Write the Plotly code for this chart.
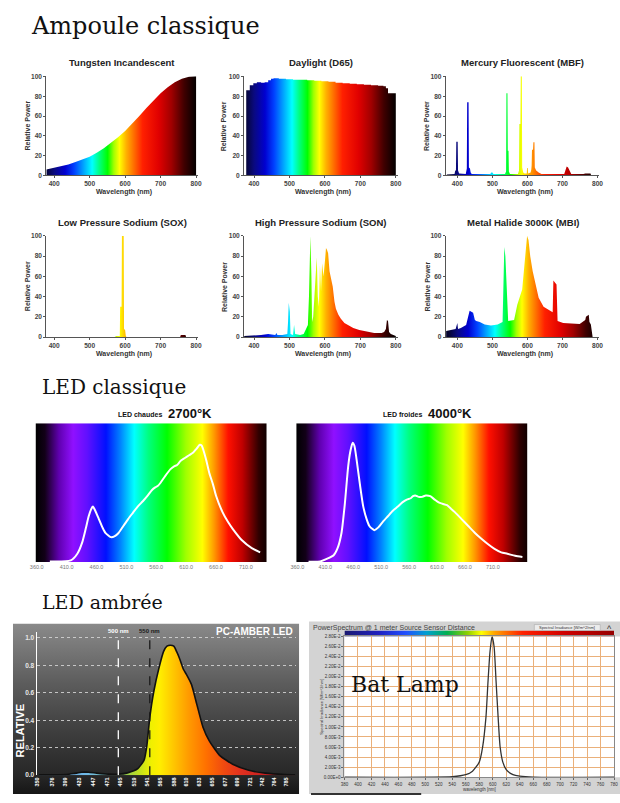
import plotly.graph_objects as go

# ====================== DATA ======================
# --- Ampoule classique (relative power, %) ---
TUNG_WL = [378, 400, 420, 440, 460, 480, 500, 520, 540, 560, 580, 600, 620, 640, 660, 680, 700, 720, 740, 760, 780, 800]
TUNG_PW = [6, 7.5, 9, 11, 13.5, 16, 19, 23, 27.5, 33, 38.5, 45, 52, 60, 68, 76, 83, 89, 94, 97.5, 99.5, 100]

DAY_WL = [378, 388, 398, 408, 420, 430, 440, 448, 455, 470, 490, 510, 530, 550, 570, 590, 610, 630, 650, 670,
          690, 710, 730, 750, 765, 772, 778, 800]
DAY_PW = [86, 91, 93, 94, 93.5, 94, 96, 97.5, 98, 97.5, 97, 96.5, 96.5, 96, 95.5, 95, 94.5, 93.5, 93, 92.5,
          92, 91.5, 91, 90.5, 90, 88, 83, 83]

HG_WL = [370, 392, 394, 396, 397, 401, 402, 405, 424, 426, 427, 428, 432, 433, 436, 438, 441, 494, 497, 500,
         503, 536, 538, 539, 540, 543, 544, 546, 547, 550, 573, 575, 576, 577, 580, 581, 584, 585, 588, 592,
         598, 599, 601, 602, 609, 611, 612, 613, 616, 617, 620, 621, 625, 632, 640, 705, 708, 712, 716, 720,
         725, 760, 765, 780, 782]
HG_PW = [1, 1.5, 5, 5, 34, 34, 5, 2, 1.5, 5, 7, 74, 74, 8, 7, 3, 1.5, 1.5, 3, 3,
         1.5, 1.5, 3, 4, 83, 83, 25, 25, 4, 1.5, 1.5, 3, 5, 52, 52, 100, 100, 8, 3, 2,
         2, 7.5, 7.5, 2, 3, 6, 10, 26, 26, 33.5, 33.5, 8, 5, 3, 1.5, 1.5, 5, 9, 8, 5,
         1.5, 1.5, 2, 2, 0]

SOX_WL = [378, 570, 575, 585, 586, 590, 591, 596, 597, 600, 602, 604, 755, 757, 770, 772, 805]
SOX_PW = [0, 0, 1, 1, 30, 30, 100, 100, 8, 7, 1, 0, 0, 2, 2, 0, 0]

SON_WL = [372, 400, 420, 440, 450, 460, 463, 466, 480, 494, 496, 498, 501, 503, 510, 513, 516, 530, 540, 548,
          552, 555, 557, 559, 562, 564, 567, 571, 574, 577, 580, 583, 586, 589, 592, 596, 600, 603, 606, 609,
          613, 618, 622, 627, 631, 638, 645, 655, 664, 680, 697, 720, 739, 760, 767, 772, 775, 778, 781, 786, 800]
SON_PW = [1, 1.5, 2, 3, 2.5, 2, 4, 2, 2, 3, 15, 34, 25, 3, 2, 12, 3, 2, 3, 8,
          12, 40, 73, 100, 60, 15, 20, 40, 60, 79, 40, 30, 71, 45, 73, 60, 75, 88, 86, 83,
          65, 55, 50, 35, 28, 22, 18, 14, 12, 9, 7, 5, 4, 4, 5, 8, 17, 16, 5, 3, 1]

MBI_WL = [368, 380, 395, 400, 402, 410, 425, 435, 440, 445, 450, 454, 464, 478, 496, 515, 529, 532, 534, 537,
          541, 545, 562, 571, 585, 594, 599, 603, 608, 615, 622, 632, 646, 660, 672, 674, 676, 683, 686, 702,
          749, 765, 767, 775, 777, 781, 786]
MBI_PW = [6, 7, 8, 14, 8, 9, 12, 26, 25, 24, 17, 16, 15, 12.5, 11.5, 12.5, 15, 60, 89, 80,
          53, 16, 17, 32, 47, 80, 100, 96, 80, 65, 53, 39, 30, 27, 24.5, 56, 55, 52, 16, 14,
          13, 17, 20, 22, 15, 12.5, 0]

TOP_TITLES = ["Tungsten Incandescent", "Daylight (D65)", "Mercury Fluorescent (MBF)",
              "Low Pressure Sodium (SOX)", "High Pressure Sodium (SON)", "Metal Halide 3000K (MBI)"]
TOP_XTICKS = [400, 500, 600, 700, 800]
TOP_YTICKS = [0, 20, 40, 60, 80, 100]

# --- LED classique (relative) ---
WARM_WL = [382, 417, 428, 436, 442, 447, 451, 454, 458, 464, 470, 475, 484, 490, 497, 505, 513, 521, 529, 538,
           546, 553, 559, 563, 567, 575, 584, 590, 595, 601, 608, 615, 622, 628, 633, 636, 638, 644, 649, 655,
           660, 671, 680, 688, 704, 720, 734]
WARM_PW = [0.005, 0.012, 0.06, 0.14, 0.24, 0.33, 0.38, 0.40, 0.37, 0.31, 0.25, 0.21, 0.18, 0.185, 0.21, 0.26,
           0.31, 0.355, 0.40, 0.44, 0.48, 0.52, 0.54, 0.55, 0.57, 0.62, 0.67, 0.69, 0.70, 0.73, 0.75, 0.77,
           0.79, 0.82, 0.845, 0.84, 0.82, 0.73, 0.64, 0.56, 0.48, 0.36, 0.29, 0.24, 0.155, 0.10, 0.07]

COOL_WL = [380, 401, 425, 432, 439, 445, 451, 455, 459, 462, 466, 472, 478, 484, 489, 494, 498, 505, 513, 522,
           531, 540, 548, 556, 563, 567, 571, 577, 583, 590, 598, 606, 613, 620, 628, 635, 642, 654, 666, 678,
           689, 701, 713, 725, 736, 750, 763]
COOL_PW = [0.003, 0.005, 0.05, 0.1, 0.21, 0.42, 0.69, 0.8, 0.86, 0.84, 0.74, 0.56, 0.40, 0.31, 0.26, 0.24,
           0.23, 0.25, 0.29, 0.33, 0.37, 0.40, 0.43, 0.45, 0.46, 0.475, 0.48, 0.47, 0.47, 0.48, 0.475, 0.45,
           0.43, 0.42, 0.41, 0.385, 0.36, 0.31, 0.26, 0.21, 0.17, 0.13, 0.095, 0.07, 0.06, 0.045, 0.036]
LED_XTICKS = [360, 410, 460, 510, 560, 610, 660, 710]

# --- LED ambrée (PC-AMBER) ---
AMB_WL = [352, 400, 413, 427, 439, 453, 467, 490, 507, 525, 536, 541, 546, 553, 562, 570, 576, 582, 588, 593,
          599, 605, 610, 619, 628, 639, 650, 668, 691, 719, 748, 782, 800]
AMB_RL = [0.003, 0.005, 0.012, 0.022, 0.022, 0.015, 0.01, 0.007, 0.017, 0.048, 0.11, 0.22, 0.42, 0.61, 0.78,
          0.90, 0.94, 0.947, 0.94, 0.90, 0.84, 0.77, 0.735, 0.66, 0.52, 0.35, 0.25, 0.145, 0.08, 0.036,
          0.015, 0.005, 0.003]
AMB_XTICKS = [350, 376, 399, 423, 447, 471, 495, 519, 541, 565, 588, 610, 633, 655, 677, 699, 721, 742, 764, 785]
AMB_YTICKS = [0.0, 0.2, 0.4, 0.6, 0.8, 1.0]
AMB_MARKS = [("500 nm", 491), ("550 nm", 546)]

# --- Bat Lamp ---
BAT_WL = [380, 540, 560, 570, 580, 585, 590, 593, 596, 599, 602, 605, 608, 611, 615, 620, 630, 640, 660, 780]
BAT_IR = [0.0, 0.0001, 0.0005, 0.0012, 0.003, 0.006, 0.012, 0.019, 0.025, 0.028, 0.026, 0.019, 0.012,
          0.006, 0.003, 0.0015, 0.0005, 0.0002, 0.0, 0.0]
BAT_XTICKS = list(range(380, 781, 20))
BAT_YTICKS = [i * 0.002 for i in range(15)]

# --- colour ramps (style) ---
SPEC_NM = [375, 400, 430, 455, 480, 505, 525, 548, 565, 581, 600, 620, 645, 690, 725, 760, 790, 805]
SPEC_COL = ['#050530', '#0a0a80', '#0000d0', '#0040ff', '#00a0ff', '#00ffff', '#00ff80', '#00ff00', '#a0ff00',
            '#ffff00', '#ffb000', '#ff7000', '#ff2000', '#e00000', '#a00000', '#400000', '#080000', '#000000']
LED_POS = [0, 0.04, 0.10, 0.16, 0.22, 0.30, 0.36, 0.42, 0.48, 0.56, 0.64, 0.71, 0.76, 0.82, 0.88, 0.95, 1.0]
LED_COL = ['#000000', '#120018', '#6000b0', '#9010ff', '#6010ff', '#0010ff', '#0080ff', '#00ffff', '#00ff80',
           '#00ff00', '#a0ff00', '#ffff00', '#ff9900', '#ff1000', '#c00000', '#300000', '#000000']
AMB_NM = [350, 430, 470, 500, 525, 545, 560, 585, 610, 640, 670, 700, 740, 800]
AMB_COL = ['#5080b0', '#70b8e8', '#70c0c0', '#90c850', '#c0e020', '#f0f000', '#ffee00', '#ffc400', '#ff9a00',
           '#ff7000', '#f04a10', '#e03020', '#c82020', '#a01818']
BAR_NM = [380, 430, 470, 500, 530, 560, 580, 600, 640, 700, 780]
BAR_COL = ['#1a1a70', '#2020c0', '#2050ff', '#00a0d0', '#00b050', '#90d000', '#ffff00', '#ffa000', '#ff2000',
           '#d00000', '#900000']

for a, b in [(TUNG_WL, TUNG_PW), (DAY_WL, DAY_PW), (HG_WL, HG_PW), (SOX_WL, SOX_PW), (SON_WL, SON_PW),
             (MBI_WL, MBI_PW), (WARM_WL, WARM_PW), (COOL_WL, COOL_PW), (AMB_WL, AMB_RL), (BAT_WL, BAT_IR),
             (SPEC_NM, SPEC_COL), (LED_POS, LED_COL), (AMB_NM, AMB_COL), (BAR_NM, BAR_COL)]:
    assert len(a) == len(b)


def scale(nms, cols):
    lo, hi = nms[0], nms[-1]
    return [[(n - lo) / (hi - lo), c] for n, c in zip(nms, cols)]


SPEC_CS = scale(SPEC_NM, SPEC_COL)
LED_CS = [[p, c] for p, c in zip(LED_POS, LED_COL)]
AMB_CS = scale(AMB_NM, AMB_COL)
BAR_CS = scale(BAR_NM, BAR_COL)
GRAY_CS = [[0, '#141414'], [0.11, '#262626'], [0.35, '#3c3c3c'], [0.65, '#5c5c5c'], [1, '#8a8a8a']]

# ====================== LAYOUT HELPERS ======================
W, H = 620, 803


def px_x(p):
    return p / W


def px_y(p):
    return 1 - p / H


fig = go.Figure()
L = dict(width=W, height=H, autosize=False, margin=dict(l=0, r=0, t=0, b=0, pad=0),
         paper_bgcolor='white', plot_bgcolor='rgba(0,0,0,0)', showlegend=False,
         font=dict(family='Liberation Sans, Arial, sans-serif', color='#222'))
shapes, annos = [], []


def set_axes(n, x0, x1, y0, y1, xr, yr, xkw=None, ykw=None):
    s = '' if n == 1 else str(n)
    base = dict(showgrid=False, zeroline=False, showticklabels=False, ticks='', showline=False, fixedrange=True)
    xa = dict(base, domain=[px_x(x0), px_x(x1)], range=xr, anchor='y' + s)
    ya = dict(base, domain=[px_y(y1), px_y(y0)], range=yr, anchor='x' + s)
    if xkw:
        xa.update(xkw)
    if ykw:
        ya.update(ykw)
    L['xaxis' + s] = xa
    L['yaxis' + s] = ya
    return 'x' + s, 'y' + s


def text(t, x, y, size, color='#222', xanchor='center', family=None, bold=False, angle=0):
    f = dict(size=size, color=color)
    if family:
        f['family'] = family
    if bold:
        f['weight'] = 'bold'
    annos.append(dict(text=t, x=px_x(x), y=px_y(y), xref='paper', yref='paper', showarrow=False,
                      xanchor=xanchor, yanchor='middle', font=f, textangle=angle, borderpad=0))


def rect_trace(xa, ya, x0, x1, y0, y1, grad):
    fig.add_trace(go.Scatter(x=[x0, x1, x1, x0, x0], y=[y0, y0, y1, y1, y0], xaxis=xa, yaxis=ya,
                             mode='lines', line=dict(width=0), fill='toself', fillgradient=grad,
                             hoverinfo='skip'))


SERIF = 'DejaVu Serif, serif'

# ====================== PC-AMBER panel background (axes 1) ======================
xa, ya = set_axes(1, 7, 298, 625, 797, [0, 1], [0, 1])
rect_trace(xa, ya, 0, 1, 0, 1, dict(type='vertical', colorscale=GRAY_CS, start=0, stop=1))

# ====================== Ampoule classique (axes 2-7) ======================
COLS = [(41, 195, [378, 805]), (242, 398, [372, 805]), (447, 603, [367, 805])]
ROWS = [(73, 173, 59, 190), (234, 336, 220, 353)]
YT_X = [22, 222, 428]
SPECTRA = [(TUNG_WL, TUNG_PW, 'linear'), (DAY_WL, DAY_PW, 'hv'), (HG_WL, HG_PW, 'linear'),
           (SOX_WL, SOX_PW, 'linear'), (SON_WL, SON_PW, 'linear'), (MBI_WL, MBI_PW, 'linear')]
tickfont = dict(size=6.6, color='#444', family='Liberation Sans', weight='bold')
axstyle = dict(showticklabels=True, ticks='outside', ticklen=2, tickwidth=1, tickcolor='#555',
               showline=True, linecolor='#555', linewidth=1, tickfont=tickfont)
for i, (wl, pw, shp) in enumerate(SPECTRA):
    r, c = divmod(i, 3)
    x0, x1, xr = COLS[c]
    y0, y1, ty, wy = ROWS[r]
    xa, ya = set_axes(2 + i, x0, x1, y0, y1, xr, [0, 100],
                      dict(axstyle, tickvals=TOP_XTICKS), dict(axstyle, tickvals=TOP_YTICKS))
    fig.add_trace(go.Scatter(x=wl, y=pw, xaxis=xa, yaxis=ya, mode='lines',
                             line=dict(width=0, shape=shp), fill='tozeroy',
                             fillgradient=dict(type='horizontal', colorscale=SPEC_CS, start=375, stop=805),
                             hoverinfo='skip'))
    text(TOP_TITLES[i], (x0 + x1) / 2, ty, 9.5, '#222', bold=True)
    text('Wavelength (nm)', (x0 + x1) / 2 + 2, wy, 7, '#333', bold=True)
    text('Relative Power', YT_X[c], (y0 + y1) / 2, 7, '#333', bold=True, angle=-90)

# ====================== LED classique (axes 8-9) ======================
LEDS = [(WARM_WL, WARM_PW, 30, 265, [358, 745], 'LED chaudes', '2700°K', 160),
        (COOL_WL, COOL_PW, 295, 530, [358, 772], 'LED froides', '4000°K', 424)]
for j, (wl, pw, x0, x1, xr, lab, temp, tx) in enumerate(LEDS):
    xa, ya = set_axes(8 + j, x0, x1, 423, 563, xr, [0, 1],
                      dict(showticklabels=True, tickvals=LED_XTICKS, tickformat='.1f',
                           tickfont=dict(size=5.5, color='#777')))
    rect_trace(xa, ya, xr[0], xr[1], 0, 1,
               dict(type='horizontal', colorscale=LED_CS, start=xr[0], stop=xr[1]))
    fig.add_trace(go.Scatter(x=wl, y=pw, xaxis=xa, yaxis=ya, mode='lines',
                             line=dict(color='white', width=2, shape='spline', smoothing=0.6),
                             hoverinfo='skip'))
    text(lab, tx, 414, 7, '#111', xanchor='right', bold=True)
    text(temp, tx + 4, 413, 13, '#111', xanchor='left', bold=True)

# ====================== LED ambrée (axes 10) ======================
xa, ya = set_axes(10, 31, 295, 634, 778, [348, 802], [0, 1.04],
                  dict(showticklabels=True, tickvals=AMB_XTICKS, tickangle=-90,
                       tickfont=dict(size=5.5, color='white', weight='bold')),
                  dict(showticklabels=True, tickvals=AMB_YTICKS, ticktext=[f'{v:.1f}' for v in AMB_YTICKS],
                       tickfont=dict(size=6.5, color='#e8e8e8', weight='bold'),
                       showline=True, linecolor='white', linewidth=1,
                       showgrid=True, gridcolor='rgba(215,215,215,0.85)', griddash='dot', gridwidth=1))
fig.add_trace(go.Scatter(x=AMB_WL, y=AMB_RL, xaxis=xa, yaxis=ya, mode='lines',
                         line=dict(color='#111111', width=1.6, shape='spline', smoothing=0.5),
                         fill='tozeroy',
                         fillgradient=dict(type='horizontal', colorscale=AMB_CS, start=350, stop=800),
                         hoverinfo='skip'))
for k, (lab, wlv) in enumerate(AMB_MARKS):
    col = 'white' if k == 0 else '#1a1a1a'
    shapes.append(dict(type='line', xref=xa, yref=ya, x0=wlv, x1=wlv, y0=0, y1=1.04,
                       line=dict(color=col, width=1.3, dash='dash')))
    annos.append(dict(text=lab, x=wlv, xref=xa, y=px_y(633), yref='paper', showarrow=False,
                      xanchor='center', yanchor='middle', font=dict(size=6, color=col, weight='bold')))
text('PC-AMBER LED', 293, 633, 10, 'white', xanchor='right', bold=True)
text('RELATIVE', 14, 733, 11, 'white', bold=True, angle=-90)

# ====================== Bat Lamp (axes 11-12) ======================
shapes.append(dict(type='rect', xref='paper', yref='paper', x0=px_x(308), x1=px_x(625), y0=px_y(797),
                   y1=px_y(623), fillcolor='#d3d3d3', line=dict(width=0), layer='below'))
shapes.append(dict(type='rect', xref='paper', yref='paper', x0=px_x(344), x1=px_x(625), y0=px_y(780),
                   y1=px_y(638), fillcolor='white', line=dict(width=0), layer='below'))
xa, ya = set_axes(11, 344, 618, 632, 638, [380, 780], [0, 1])
rect_trace(xa, ya, 380, 780, 0, 1, dict(type='horizontal', colorscale=BAR_CS, start=380, stop=780))


def sci(v):
    if v == 0:
        return '0.00E+0'
    m, e = f'{v:.2E}'.split('E')
    return f'{m}E{int(e)}'


bat_grid = dict(showgrid=True, gridcolor='#eab07a', gridwidth=1, ticks='outside', ticklen=2,
                tickcolor='#666', showline=True, linecolor='#888', linewidth=1, mirror=True,
                showticklabels=True, tickfont=dict(size=4.5, color='#333'))
xa, ya = set_axes(12, 344, 618, 638, 780, [380, 780], [0, 0.028],
                  dict(bat_grid, tickvals=BAT_XTICKS, ticktext=[str(v) for v in BAT_XTICKS]),
                  dict(bat_grid, tickvals=BAT_YTICKS, ticktext=[sci(v) for v in BAT_YTICKS]))
fig.add_trace(go.Scatter(x=BAT_WL, y=BAT_IR, xaxis=xa, yaxis=ya, mode='lines',
                         line=dict(color='#333333', width=1.3, shape='spline', smoothing=0.6),
                         hoverinfo='skip'))
text('PowerSpectrum @ 1 meter Source Sensor Distance', 311, 629, 7, '#444', xanchor='left')
shapes.append(dict(type='rect', xref='paper', yref='paper', x0=px_x(537), x1=px_x(604), y0=px_y(632),
                   y1=px_y(626), fillcolor='#ececec', line=dict(color='#a0a0a0', width=0.5)))
text('Spectral Irradiance [W/m^2/nm]', 570, 629, 4, '#333')
text('^', 613, 631, 9, '#333')
text('wavelength [nm]', 481, 792, 4.5, '#333')
text('Spectral Irradiance [W/m^2/nm]', 321, 709, 4, '#333', angle=-90)
shapes.append(dict(type='line', xref='paper', yref='paper', x0=px_x(310), x1=px_x(422), y0=px_y(797),
                   y1=px_y(797), line=dict(color='#333', width=2)))
text('Bat Lamp', 350, 686, 22, '#111', xanchor='left', family=SERIF)

# ====================== section titles ======================
text('Ampoule classique', 24, 22, 24, '#111', xanchor='left', family=SERIF)
text('LED classique', 36, 386, 20, '#111', xanchor='left', family=SERIF)
text('LED ambrée', 36, 603, 19, '#111', xanchor='left', family=SERIF)

L['shapes'] = shapes
L['annotations'] = annos
fig.update_layout(**L)
fig.write_html("out.html", config={'displayModeBar': False, 'staticPlot': True},
               post_script="document.body.style.margin='0';document.body.style.overflow='hidden';")
